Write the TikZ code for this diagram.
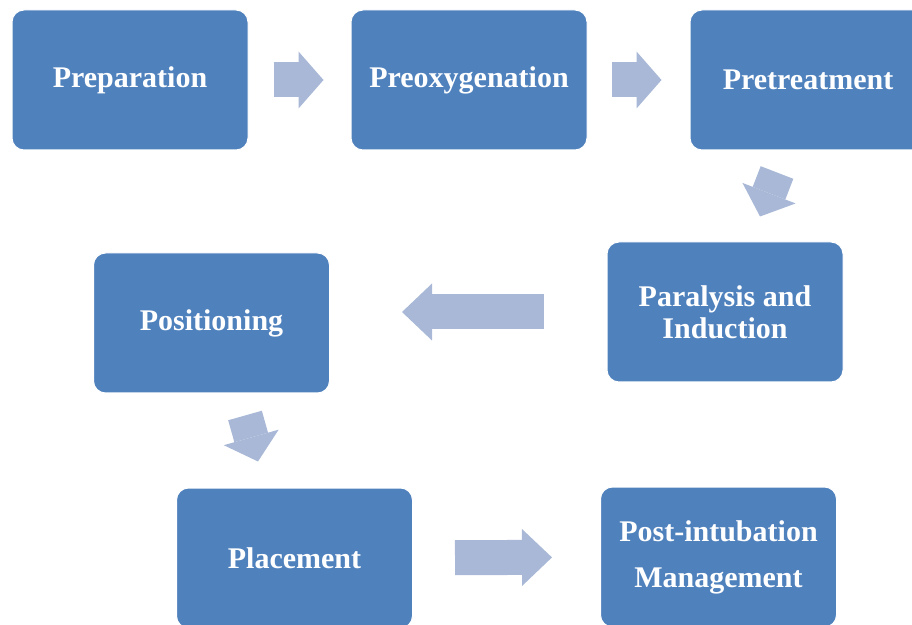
\documentclass[tikz,border=0pt]{standalone}
\usepackage{fontspec}
\setmainfont{Liberation Serif}
\usepackage{tikz}
\usetikzlibrary{arrows.meta,positioning,calc}

\definecolor{boxblue}{RGB}{79,129,189}
\definecolor{arrowgray}{RGB}{168,184,214}

\tikzset{
  stepbox/.style={draw=white, line width=1pt, fill=boxblue, rounded corners=12pt,
    minimum width=236pt, minimum height=140pt, text=white, align=center,
    font=\fontsize{30}{32}\selectfont\bfseries},
  fatarrow/.style={draw=arrowgray, line width=35pt,
    -{Triangle[length=#1, width=57pt, line width=0pt]}},
  fatarrow/.default=25pt
}

\begin{document}
\begin{tikzpicture}[x=1pt, y=1pt, node distance=102pt]
\useasboundingbox (0,0) rectangle (912,624);
\node[stepbox] (prep) at (130,544) {Preparation};
\node[stepbox, right=of prep] (preox) {Preoxygenation};
\node[stepbox, right=of preox] (pretr) {Pretreatment};
\node[stepbox] (para) at (725,312) {Paralysis and\\Induction};
\node[stepbox] (posi) at (211.5,301) {Positioning};
\node[stepbox] (place) at (294.5,66) {Placement};
\node[stepbox] (post) at (718.5,67) {Post-intubation\\[14pt]Management};

% tilted arrow ends
\coordinate (d1tail) at ($(pretr.south)+(-31,-22)$);
\coordinate (d1tip) at ($(para.north)+(35,25)$);
\coordinate (d2tail) at ($(posi.south)+(33.5,-22)$);
\coordinate (d2tip) at ($(place.north)+(-36.5,26)$);

\draw[fatarrow, shorten <=25pt, shorten >=27pt] (prep) -- (preox);
\draw[fatarrow, shorten <=24pt, shorten >=28pt] (preox) -- (pretr);
\draw[fatarrow] (d1tail) -- (d1tip);
\draw[fatarrow=30pt, shorten <=63pt, shorten >=72pt] (para.west) -- (para.west -| posi.east);
\draw[fatarrow] (d2tail) -- (d2tip);
\draw[fatarrow=30pt, shorten <=42pt, shorten >=48pt] (place) -- (post);
\end{tikzpicture}
\end{document}
